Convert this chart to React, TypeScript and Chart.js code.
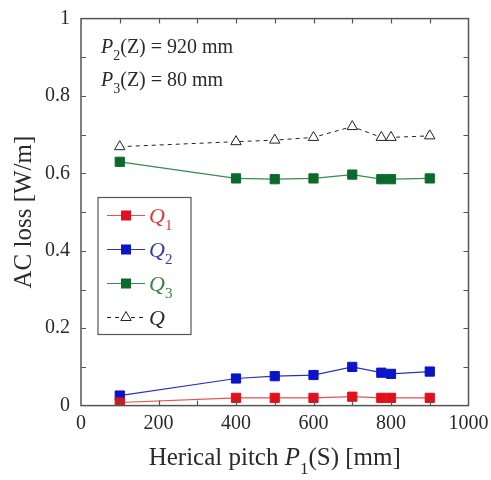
import React, { useEffect, useRef } from "react";
import { Chart, registerables } from "chart.js";
Chart.register(...registerables);

const pitch = [100, 400, 500, 600, 700, 775, 800, 900];
const q1 = [0.008, 0.02, 0.02, 0.02, 0.023, 0.02, 0.02, 0.02];
const q2 = [0.026, 0.07, 0.076, 0.079, 0.1, 0.085, 0.082, 0.088];
const q3 = [0.63, 0.587, 0.585, 0.587, 0.597, 0.585, 0.585, 0.587];
const qTotal = [0.669, 0.682, 0.686, 0.693, 0.721, 0.693, 0.693, 0.697];

const xMin = 0, xMax = 1000, xLabelStep = 200, xMinorStep = 100;
const yMin = 0, yMax = 1, yLabelStep = 0.2, yMinorStep = 0.1;

const FONT = '"Liberation Serif", "Times New Roman", serif';
const TEXT = "#2a2a2a";
const FRAME = "#555";

type Part = { t: string; it?: boolean; sub?: boolean; color?: string };

function drawRich(ctx: CanvasRenderingContext2D, parts: Part[], x: number, y: number, size: number, align: "left" | "center" = "left") {
  const fontFor = (p: Part) => `${p.it ? "italic " : ""}${p.sub ? Math.round(size * 0.68) : size}px ${FONT}`;
  const widths = parts.map((p) => { ctx.font = fontFor(p); return ctx.measureText(p.t).width; });
  const total = widths.reduce((a, b) => a + b, 0);
  let cx = align === "center" ? x - total / 2 : x;
  ctx.textAlign = "left";
  ctx.textBaseline = "alphabetic";
  parts.forEach((p, i) => {
    ctx.font = fontFor(p);
    ctx.fillStyle = p.color || TEXT;
    ctx.fillText(p.t, cx, y + (p.sub ? size * 0.35 : 0));
    cx += widths[i];
  });
}

const framePlugin = {
  id: "frameTicks",
  afterDraw(chart: any) {
    const ctx: CanvasRenderingContext2D = chart.ctx;
    const { left, right, top, bottom } = chart.chartArea;
    const xs = chart.scales.x, ys = chart.scales.y;
    ctx.save();
    ctx.strokeStyle = FRAME;
    ctx.lineWidth = 1.5;
    ctx.setLineDash([]);
    ctx.strokeRect(left, top, right - left, bottom - top);
    ctx.lineWidth = 1.2;
    const tl = 5;
    for (let v = xMin + xMinorStep; v < xMax; v += xMinorStep) {
      const px = Math.round(xs.getPixelForValue(v)) + 0.5;
      ctx.beginPath();
      ctx.moveTo(px, bottom); ctx.lineTo(px, bottom - tl);
      ctx.moveTo(px, top); ctx.lineTo(px, top + tl);
      ctx.stroke();
    }
    for (let i = 1; i < Math.round((yMax - yMin) / yMinorStep); i++) {
      const py = Math.round(ys.getPixelForValue(yMin + i * yMinorStep)) + 0.5;
      ctx.beginPath();
      ctx.moveTo(left, py); ctx.lineTo(left + tl, py);
      ctx.moveTo(right, py); ctx.lineTo(right - tl, py);
      ctx.stroke();
    }

    // annotation
    drawRich(ctx, [{ t: "P", it: true }, { t: "2", sub: true }, { t: "(Z) = 920 mm" }], left + 20, top + 34, 20);
    drawRich(ctx, [{ t: "P", it: true }, { t: "3", sub: true }, { t: "(Z) = 80 mm" }], left + 20, top + 67, 20);

    // axis titles
    drawRich(ctx, [{ t: "Herical pitch " }, { t: "P", it: true }, { t: "1", sub: true }, { t: "(S) [mm]" }], (left + right) / 2, 465, 25, "center");
    ctx.save();
    ctx.translate(23, (top + bottom) / 2);
    ctx.rotate(-Math.PI / 2);
    drawRich(ctx, [{ t: "AC loss [W/m]" }], 0, 8, 25, "center");
    ctx.restore();

    // legend
    const lx = left + 17, ly = 197.5, lw = 93, lh = 137;
    ctx.fillStyle = "#fff";
    ctx.fillRect(lx, ly, lw, lh);
    ctx.strokeStyle = FRAME;
    ctx.lineWidth = 1.2;
    ctx.strokeRect(lx, ly, lw, lh);
    chart.data.datasets.forEach((ds: any, i: number) => {
      const cy = ly + 18 + i * 34;
      const x0 = lx + 9, x1 = lx + 47, mx = (x0 + x1) / 2;
      ctx.strokeStyle = ds.borderColor;
      ctx.lineWidth = ds.borderWidth;
      ctx.setLineDash(ds.borderDash || []);
      ctx.beginPath(); ctx.moveTo(x0, cy); ctx.lineTo(x1, cy); ctx.stroke();
      ctx.setLineDash([]);
      if (ds.pointStyle === "triangle") {
        const r = ds.pointRadius;
        ctx.beginPath();
        ctx.moveTo(mx, cy - r);
        ctx.lineTo(mx + r * 0.866, cy + r * 0.5);
        ctx.lineTo(mx - r * 0.866, cy + r * 0.5);
        ctx.closePath();
        ctx.fillStyle = "#fff"; ctx.fill();
        ctx.strokeStyle = "#222"; ctx.lineWidth = 1; ctx.stroke();
      } else {
        ctx.fillStyle = ds.pointBackgroundColor;
        ctx.fillRect(mx - 5, cy - 5, 10, 10);
      }
      const parts: Part[] = [{ t: "Q", it: true, color: ds.labelColor }];
      if (ds.sub) parts.push({ t: ds.sub, sub: true, color: ds.labelColor });
      drawRich(ctx, parts, x1 + 4, cy + 7, 22);
    });
    ctx.restore();
  },
};

export default function App() {
  const ref = useRef<HTMLCanvasElement>(null);
  useEffect(() => {
    document.body.style.margin = "0";
    const mk = (data: number[]) => pitch.map((x, i) => ({ x, y: data[i] }));
    const sq = (color: string, line: string, data: number[], sub: string, labelColor: string) => ({
      label: "Q" + sub,
      data: mk(data),
      borderColor: line,
      borderWidth: 1.2,
      pointStyle: "rect",
      pointRadius: 6.5,
      pointBorderWidth: 1,
      pointBackgroundColor: color,
      pointBorderColor: color,
      sub,
      labelColor,
    });
    const chart = new Chart(ref.current!, {
      type: "line",
      data: {
        datasets: [
          sq("#e3101c", "#e85050", q1, "1", "#d83a3a"),
          sq("#0a14c8", "#2a34b0", q2, "2", "#3a3aa8"),
          sq("#0b6a2a", "#3a8a50", q3, "3", "#3a8048"),
          {
            label: "Q",
            data: mk(qTotal),
            borderColor: "#222",
            borderWidth: 1,
            borderDash: [4, 4],
            pointStyle: "triangle",
            pointRadius: 6,
            pointBorderWidth: 1,
            pointBackgroundColor: "#fff",
            pointBorderColor: "#222",
            labelColor: "#2a2a2a",
          } as any,
        ] as any,
      },
      options: {
        responsive: false,
        animation: false,
        layout: { padding: { top: 18.6, right: 22.5, left: 0, bottom: 0 } },
        plugins: { legend: { display: false }, tooltip: { enabled: false } },
        scales: {
          x: {
            type: "linear",
            min: xMin,
            max: xMax,
            grid: { display: false, drawTicks: false },
            border: { display: false },
            ticks: {
              stepSize: xLabelStep,
              font: { family: FONT, size: 20 },
              color: TEXT,
              padding: 6,
              maxRotation: 0,
              callback: (v: any) => String(Math.round(Number(v))),
            },
            afterFit: (s: any) => { s.height = 480 - 405.6; s.paddingLeft = 0; s.paddingRight = 0; },
          },
          y: {
            type: "linear",
            min: yMin,
            max: yMax,
            grid: { display: false, drawTicks: false },
            border: { display: false },
            ticks: {
              stepSize: yLabelStep,
              font: { family: FONT, size: 20 },
              color: TEXT,
              padding: 11,
              callback: (v: any) => (Math.abs(v) < 1e-9 ? "0" : Math.abs(v - 1) < 1e-9 ? "1" : Number(v).toFixed(1)),
            },
            afterFit: (s: any) => { s.width = 81; s.paddingTop = 0; s.paddingBottom = 0; },
          },
        },
      } as any,
      plugins: [framePlugin],
    });
    return () => chart.destroy();
  }, []);
  return (
    <div style={{ position: "fixed", left: 0, top: 0, width: 491, height: 480, background: "#fff" }}>
      <canvas ref={ref} width={491} height={480} style={{ width: 491, height: 480 }} />
    </div>
  );
}
